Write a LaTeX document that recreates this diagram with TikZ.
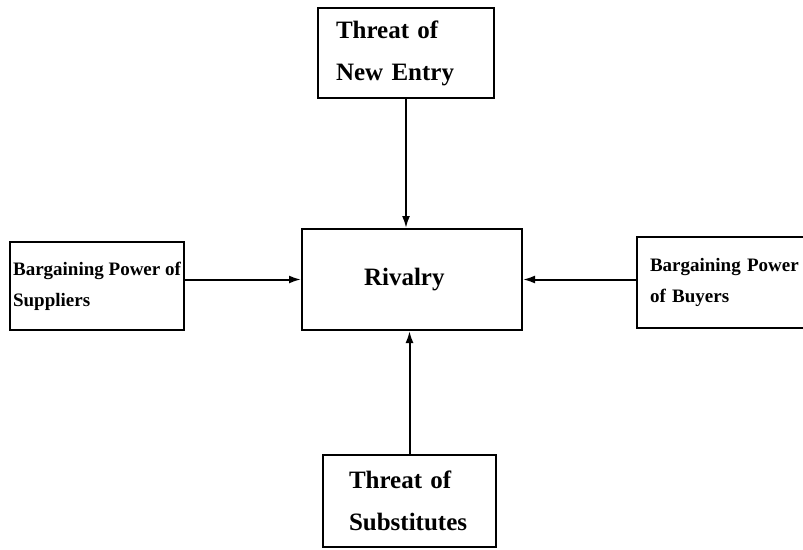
\documentclass[tikz,border=0pt]{standalone}
\usepackage{fontspec}
\setmainfont{Liberation Serif}
\usetikzlibrary{arrows.meta}

\begin{document}
\begin{tikzpicture}[x=1pt,y=-1pt,
  box/.style={draw,line width=2pt,inner sep=0pt,align=left},
  big/.style={box,font=\fontsize{25}{42}\selectfont\bfseries},
  small/.style={box,font=\fontsize{19}{31}\selectfont\bfseries},
  force/.style={-{Latex[length=12pt,width=8pt]},line width=2pt}]
\useasboundingbox(0,0)rectangle(803,549);
\node[big,minimum width=176,minimum height=90,text width=140](entry)at(406,53){Threat of\\New Entry};
\node[big,minimum width=220,minimum height=101,text width=96](rivalry)at(412,279.5){Rivalry};
\node[big,minimum width=173,minimum height=92,text width=121](subst)at(409.5,501){Threat of\\Substitutes};
\node[small,minimum width=174,minimum height=88](suppliers)at(97,286){Bargaining Power of\\Suppliers};
\node[small,minimum width=178,minimum height=91,text width=152](buyers)at(726,282.5){Bargaining Power\\of Buyers};
\draw[force](entry)--(entry|-rivalry.north);
\draw[force](subst)--(subst|-rivalry.south);
\draw[force](suppliers.east|-rivalry)--(rivalry.west);
\draw[force](buyers.west|-rivalry)--(rivalry.east);
\end{tikzpicture}
\end{document}
